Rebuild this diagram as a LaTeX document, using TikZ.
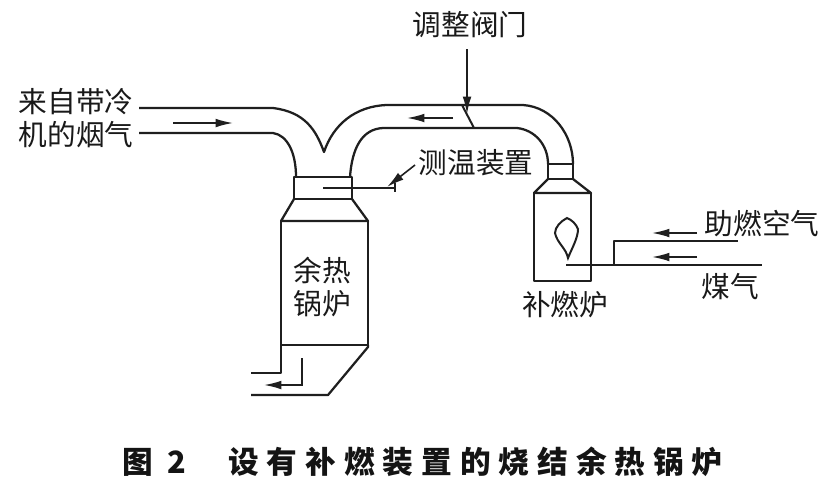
\documentclass[tikz,border=0pt]{standalone}
\usepackage{fontspec}
\setmainfont{Liberation Serif}
\newfontfamily\cjk{Noto Sans CJK SC}
\newfontfamily\cjktitle[LetterSpace=26]{Noto Sans CJK SC}
\usetikzlibrary{arrows.meta}
\tikzset{
  pipe/.style={line width=1.7pt,black!88,line join=round},
  thin pipe/.style={line width=1.5pt,black!88},
  flow/.style={line width=1.2pt,black!88,-{Latex[length=13pt,width=6.5pt]}},
  lbl/.style={inner sep=0pt,font=\fontsize{21.5}{23}\selectfont\cjk,text=black!90},
  ttl/.style={inner sep=0pt,font=\fontsize{23}{25}\selectfont\bfseries\cjktitle,text=black!92}
}
\begin{document}
\begin{tikzpicture}[x=0.75pt,y=-0.75pt]
\useasboundingbox (0,0) rectangle (830,494);
% labels
\node[lbl] (in1) at (76,102) {来自带冷};
\node[lbl] (in2) at (76,135) {机的烟气};
\node[lbl] (valve) at (470,25) {调整阀门};
\node[lbl] (temp) at (476,163) {测温装置};
\node[lbl] (boil1) at (322,271) {余热};
\node[lbl] (boil2) at (322,304) {锅炉};
\node[lbl] (burner) at (565,305) {补燃炉};
\node[lbl] (air) at (762,224) {助燃空气};
\node[lbl] (gas) at (730,287) {煤气};
\node[ttl,anchor=west] (fig) at (122,462) {图 2};
\node[ttl,anchor=west] (title) at (228,462) {设有补燃装置的烧结余热锅炉};
% pipes
\draw[pipe] (139,108) -- (273,108) .. controls (305,112) and (316,130) .. (324,152)
  .. controls (333,125) and (355,106) .. (387,105) -- (523,105)
  .. controls (553,107) and (573,135) .. (573,164);
\draw[pipe] (139,133) -- (273,133) .. controls (287,135) and (296,152) .. (296,177);
\draw[pipe] (350,177) .. controls (352,148) and (362,129) .. (383,128) -- (517,128)
  .. controls (535,130) and (548,145) .. (548,164);
% heat-recovery boiler
\draw[pipe] (294,177) rectangle (352,199);
\draw[pipe] (294,199) -- (281,221) -- (368,221) -- (352,199);
\draw[pipe] (281,221) -- (281,345) -- (368,345) -- (368,221);
\draw[pipe] (251,373) -- (281,373) -- (281,345);
\draw[pipe] (368,345) -- (368,347) -- (328,395) -- (251,395);
\coordinate (outA) at (302,358);
\coordinate (outB) at (302,385);
\coordinate (outC) at (264,385);
\draw[flow] (outA) -- (outB) -- (outC);
% burner
\draw[pipe] (548,164) rectangle (573,179);
\draw[pipe] (548,179) -- (534,193) -- (591,193) -- (573,179);
\draw[pipe] (534,193) rectangle (591,281);
\draw[thin pipe] (567,218) .. controls (561,221) and (555,227) .. (555,233)
  .. controls (557,243) and (566,248) .. (568,258)
  .. controls (572,248) and (578,238) .. (578,229)
  .. controls (576,224) and (572,220) .. (567,218) -- cycle;
% feed lines
\coordinate (gasEnd) at (762,265);
\coordinate (gasIn) at (566,265);
\coordinate (tee) at (614,265);
\coordinate (airEnd) at (738,241);
\draw[pipe] (gasIn) -- (gasEnd);
\draw[pipe] (tee) -- (tee |- airEnd) -- (airEnd);
% flow arrows
\coordinate (f1a) at (173,123); \coordinate (f1b) at (233,123);
\coordinate (f2a) at (453,118); \coordinate (f2b) at (407,118);
\coordinate (f3a) at (697,233); \coordinate (f3b) at (652,233);
\coordinate (f4a) at (697,257); \coordinate (f4b) at (652,257);
\draw[flow] (f1a) -- (f1b);
\draw[flow] (f2a) -- (f2b);
\draw[flow] (f3a) -- (f3b);
\draw[flow] (f4a) -- (f4b);
% valve
\coordinate (vTop) at (462,105); \coordinate (vBot) at (474,128);
\draw[thin pipe] (vTop) -- (vBot);
\coordinate (vArrow) at (467,49); \coordinate (vTip) at (467,114);
\draw[flow] (vArrow) -- (vTip);
% temperature probe
\coordinate (pIn) at (323,188); \coordinate (pOut) at (395,188);
\draw[thin pipe] (pIn) -- (pOut);
\draw[thin pipe] (395,183) -- (395,192);
\coordinate (pA) at (415,165); \coordinate (pB) at (387,187);
\draw[flow] (pA) -- (pB);
\end{tikzpicture}
\end{document}
